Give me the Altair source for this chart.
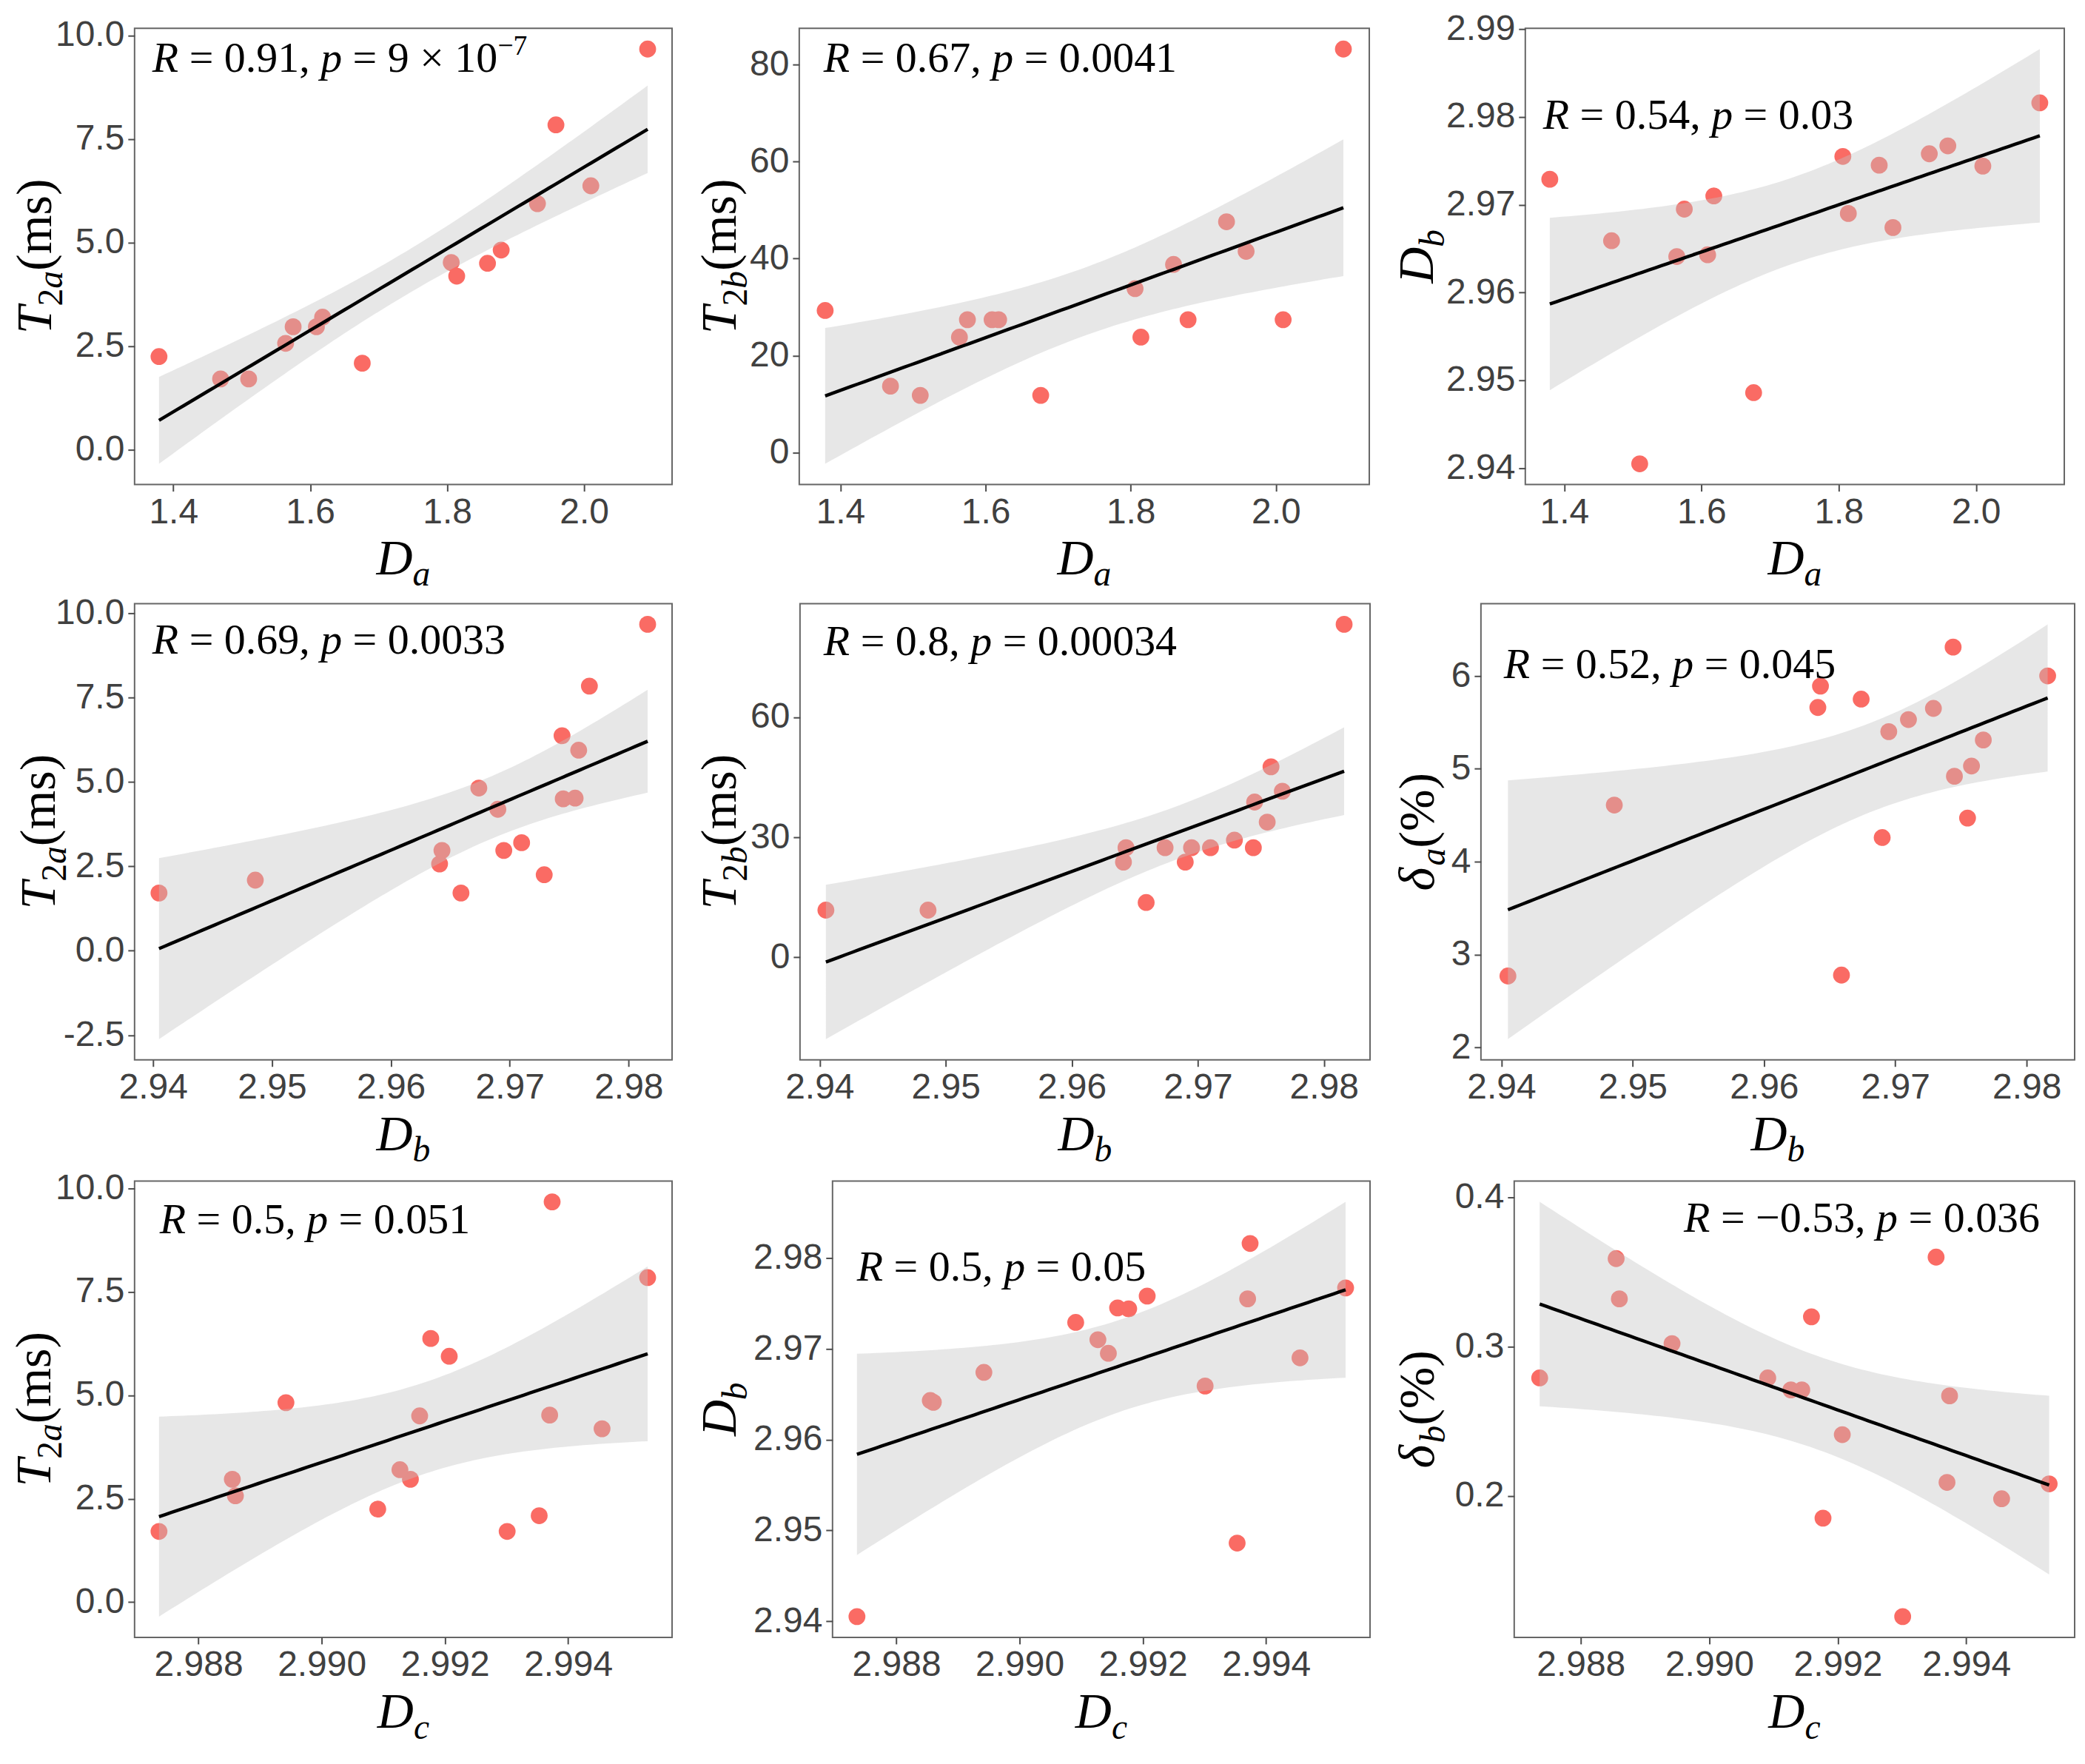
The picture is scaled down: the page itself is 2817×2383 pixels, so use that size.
import altair as alt
import numpy as np
import pandas as pd

# ---------------- data (16 samples) ----------------
Da = [1.379, 1.469, 1.510, 1.564, 1.575, 1.609, 1.618, 1.676,
      1.806, 1.814, 1.859, 1.879, 1.932, 1.959, 2.010, 2.093]
Db = [2.9729, 2.9659, 2.9405, 2.9641, 2.9695, 2.9643, 2.9710, 2.9486,
      2.9755, 2.9690, 2.9745, 2.9674, 2.9758, 2.9767, 2.9744, 2.9816]
Dc = [2.99091, 2.99301, 2.98736, 2.98860, 2.99144, 2.98855, 2.99127, 2.99353,
      2.99370, 2.99455, 2.99159, 2.98942, 2.99207, 2.99529, 2.99177, 2.99374]
T2a = [2.25, 1.71, 1.71, 2.57, 2.97, 2.97, 3.20, 2.09,
       4.52, 4.19, 4.50, 4.82, 5.94, 7.84, 6.37, 9.67]
T2b = [29.3, 13.7, 11.8, 23.8, 27.4, 27.4, 27.4, 11.8,
       33.8, 23.8, 38.8, 27.4, 47.6, 41.5, 27.4, 83.2]
delta_a = [5.65, 2.78, 2.77, 5.66, 5.40, 5.89, 5.53, 4.61,
           4.47, 4.26, 4.92, 5.75, 5.03, 5.31, 6.31, 6.00]
delta_b = [0.279, 0.119, 0.279, 0.332, 0.271, 0.359, 0.271, 0.360,
           0.209, 0.198, 0.320, 0.302, 0.241, 0.208, 0.185, 0.267]

# annotation texts
r_labels = ["0.91", "0.67", "0.54", "0.69", "0.8", "0.52", "0.5", "0.5", "\u22120.53"]
p_labels = ["9 \u00d7 10", "0.0041", "0.03", "0.0033", "0.00034", "0.045", "0.051", "0.05", "0.036"]
p_exponents = ["\u22127", "", "", "", "", "", "", "", ""]

# tick labels
ticks_Da = [1.4, 1.6, 1.8, 2.0]
ticks_Db = [2.94, 2.95, 2.96, 2.97, 2.98]
ticks_Dc = [2.988, 2.990, 2.992, 2.994]
ticks_y1 = [0.0, 2.5, 5.0, 7.5, 10.0]
ticks_y2 = [0, 20, 40, 60, 80]
ticks_y3 = [2.94, 2.95, 2.96, 2.97, 2.98, 2.99]
ticks_y4 = [-2.5, 0.0, 2.5, 5.0, 7.5, 10.0]
ticks_y5 = [0, 30, 60]
ticks_y6 = [2, 3, 4, 5, 6]
ticks_y7 = [0.0, 2.5, 5.0, 7.5, 10.0]
ticks_y8 = [2.94, 2.95, 2.96, 2.97, 2.98]
ticks_y9 = [0.2, 0.3, 0.4]

# ---------------- styling ----------------
SERIF = "Liberation Serif"
SANS = "Liberation Sans"
POINT_COLOR = "#FA6B64"
H = 617
TITLE_SIZE = 68
ANN_SIZE = 58
XTITLE_OFFSET = 122

REG_W = {' ': .25, '.': .25, ',': .25, '=': .564, '\u00d7': .564, '\u2212': .564,
         '-': .333, '(': .333, ')': .333, 'm': .778, 's': .389, '%': .833}
IT_W = {'R': .611, 'p': .5, 'T': .556, 'D': .722, 'a': .5, 'b': .5, 'c': .444, '\u03b4': .5}


def glyph_w(ch, italic):
    if ch.isdigit():
        return 0.5
    if italic and ch in IT_W:
        return IT_W[ch]
    return REG_W.get(ch, IT_W.get(ch, 0.5))


def piece_layers(pieces, x, y, size, angle=0, anchor="left"):
    """pieces: (text, scale, italic, baseline shift in em)"""
    widths = [sum(glyph_w(c, it) for c in t) * sc * size for t, sc, it, sh in pieces]
    total = sum(widths)
    cur = {"left": 0.0, "center": -total / 2, "right": -total}[anchor]
    layers = []
    for (t, sc, it, sh), w in zip(pieces, widths):
        stripped = t.lstrip()
        lead = sum(glyph_w(c, it) for c in t[:len(t) - len(stripped)]) * sc * size
        txt = stripped.rstrip()
        if txt:
            mk = dict(align="left", baseline="alphabetic", dx=round(cur + lead, 1),
                      dy=round(sh * size, 1), font=SERIF, fontSize=round(sc * size, 1),
                      fontStyle="italic" if it else "normal", color="black")
            if angle:
                mk["angle"] = angle
            layers.append(
                alt.Chart(pd.DataFrame({"t": [txt]}))
                .mark_text(**mk)
                .encode(x=alt.value(x), y=alt.value(y), text="t:N")
            )
        cur += w
    return layers


def fit_band(x, y):
    x = np.asarray(x, float)
    y = np.asarray(y, float)
    n = len(x)
    b, a = np.polyfit(x, y, 1)
    xs = np.linspace(x.min(), x.max(), 80)
    fit = a + b * xs
    resid = y - (a + b * x)
    s = np.sqrt((resid ** 2).sum() / (n - 2))
    sxx = ((x - x.mean()) ** 2).sum()
    se = s * np.sqrt(1.0 / n + (xs - x.mean()) ** 2 / sxx)
    t = 2.1447866879169273  # t(0.975, df=14)
    return xs, fit, fit - t * se, fit + t * se


def sub(letter):
    return [("D", 1, True, 0), (letter, 0.7, True, 0.22)]


T2a_title = [("T", 1, True, 0), ("2", 0.7, False, 0.22), ("a", 0.7, True, 0.22), ("(ms)", 1, False, 0)]
T2b_title = [("T", 1, True, 0), ("2", 0.7, False, 0.22), ("b", 0.7, True, 0.22), ("(ms)", 1, False, 0)]
da_title = [("\u03b4", 1, True, 0), ("a", 0.7, True, 0.22), ("(%)", 1, False, 0)]
db_title = [("\u03b4", 1, True, 0), ("b", 0.7, True, 0.22), ("(%)", 1, False, 0)]


def panel(k, xv, yv, xt, xf, yt, yf, xtitle, ytitle, W, yoff, ann_x, ann_y, ann_anchor="left"):
    xs_, fit, lo, hi = fit_band(xv, yv)
    xmin, xmax = min(xv), max(xv)
    xr = xmax - xmin
    ylo = min(min(yv), float(lo.min()))
    yhi = max(max(yv), float(hi.max()))
    yr = yhi - ylo
    xsc = alt.Scale(domain=[float(xmin - 0.05 * xr), float(xmax + 0.05 * xr)], nice=False, zero=False)
    ysc = alt.Scale(domain=[float(ylo - 0.05 * yr), float(yhi + 0.05 * yr)], nice=False, zero=False)
    xax = alt.Axis(values=xt, labelExpr=f"replace(format(datum.value, '{xf}'), '\u2212', '-')", title=None)
    yax = alt.Axis(values=yt, labelExpr=f"replace(format(datum.value, '{yf}'), '\u2212', '-')", title=None)

    pts = pd.DataFrame({"x": xv, "y": yv})
    band = pd.DataFrame({"x": xs_, "lo": lo, "hi": hi, "fit": fit})

    points = alt.Chart(pts).mark_circle(size=520, color=POINT_COLOR, opacity=1).encode(
        x=alt.X("x:Q", scale=xsc, axis=xax), y=alt.Y("y:Q", scale=ysc, axis=yax))
    ribbon = alt.Chart(band).mark_area(color="#C4C4C4", opacity=0.4).encode(
        x=alt.X("x:Q", scale=xsc, axis=xax), y=alt.Y("lo:Q", scale=ysc, axis=yax), y2="hi:Q")
    line = alt.Chart(band).mark_line(color="black", strokeWidth=4.5).encode(
        x=alt.X("x:Q", scale=xsc, axis=xax), y=alt.Y("fit:Q", scale=ysc, axis=yax))

    ann = [("R", 1, True, 0), (" = " + r_labels[k] + ", ", 1, False, 0),
           ("p", 1, True, 0), (" = " + p_labels[k], 1, False, 0)]
    if p_exponents[k]:
        ann.append((p_exponents[k], 0.65, False, -0.4))
    texts = piece_layers(ann, ann_x, ann_y, ANN_SIZE, anchor=ann_anchor)
    texts += piece_layers(xtitle, W / 2, H + XTITLE_OFFSET, TITLE_SIZE, anchor="center")
    texts += piece_layers(ytitle, -yoff + 0.33 * TITLE_SIZE, H / 2, TITLE_SIZE, angle=270, anchor="center")

    return alt.layer(points, ribbon, line, *texts).properties(width=W, height=H)


p1 = panel(0, Da, T2a, ticks_Da, ".1f", ticks_y1, ".1f", sub("a"), T2a_title, 727, 135, 24, 59)
p2 = panel(1, Da, T2b, ticks_Da, ".1f", ticks_y2, "d", sub("a"), T2b_title, 771, 108, 33, 59)
p3 = panel(2, Da, Db, ticks_Da, ".1f", ticks_y3, ".2f", sub("a"), sub("b"), 729, 147, 24, 136)
p4 = panel(3, Db, T2a, ticks_Db, ".2f", ticks_y4, ".1f", sub("b"), T2a_title, 727, 130, 24, 68)
p5 = panel(4, Db, T2b, ticks_Db, ".2f", ticks_y5, "d", sub("b"), T2b_title, 771, 109, 32, 70)
p6 = panel(5, Db, delta_a, ticks_Db, ".2f", ticks_y6, "d", sub("b"), da_title, 803, 86, 31, 101)
p7 = panel(6, Dc, T2a, ticks_Dc, ".3f", ticks_y7, ".1f", sub("c"), T2a_title, 727, 136, 34, 71)
p8 = panel(7, Dc, Db, ticks_Dc, ".3f", ticks_y8, ".2f", sub("c"), sub("b"), 727, 153, 33, 135)
p9 = panel(8, Dc, delta_b, ticks_Dc, ".3f", ticks_y9, ".1f", sub("c"), db_title, 758, 131, 758 - 47, 69, "right")

row1 = alt.hconcat(p1, p2, p3, spacing=30)
row2 = alt.hconcat(p4, p5, p6, spacing=30)
row3 = alt.hconcat(p7, p8, p9, spacing=30)

chart = (
    alt.vconcat(row1, row2, row3, spacing=0)
    .configure_view(stroke="#666666", strokeWidth=2)
    .configure_axis(labelFont=SANS, labelFontSize=48, labelColor="#404040",
                    tickColor="#4D4D4D", tickWidth=2, tickSize=9, labelPadding=5,
                    grid=False, domain=False, labelFlush=False, labelOverlap=False)
    .properties(background="white")
)

chart.save("out.html", embed_options={"renderer": "svg", "actions": False})
